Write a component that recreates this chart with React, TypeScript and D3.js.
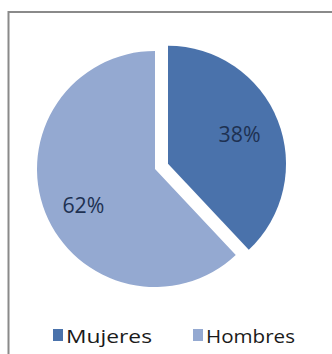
import React from "react";
import * as d3 from "d3";

const categories = ["Mujeres", "Hombres"];
const values = [38, 62];
const labels = ["38%", "62%"];
const colors = ["#4A72AB", "#94A9D1"];

export default function App() {
  const W = 332, H = 354;
  const cx = 155, cy = 169, r = 118, explode = 14;
  const pie = d3.pie<number>().sort(null).value((d) => d)(values);
  const arc = d3.arc<d3.PieArcDatum<number>>().innerRadius(0).outerRadius(r);
  const labelArc = d3.arc<d3.PieArcDatum<number>>().innerRadius(r * 0.68).outerRadius(r * 0.68);
  return (
    <svg width={W} height={H} style={{ position: "absolute", left: 0, top: 0, background: "#fff" }}
      fontFamily="'Open Sans', 'Liberation Sans', sans-serif">
      <rect x={0} y={0} width={W} height={H} fill="#fff" />
      <path d={`M8.5,${H} V12 H${W}`} fill="none" stroke="#8a8a8a" strokeWidth={2} />
      {pie.map((p, i) => {
        const mid = (p.startAngle + p.endAngle) / 2;
        const off = i === 0 ? explode : 0;
        const dx = Math.sin(mid) * off, dy = -Math.cos(mid) * off;
        const [lx, ly] = labelArc.centroid(p);
        return (
          <g key={categories[i]} transform={`translate(${cx + dx},${cy + dy})`}>
            <path d={arc(p) || ""} fill={colors[i]} />
            <text x={lx + (i === 0 ? -3 : 3)} y={ly + (i === 0 ? 0 : 6)} textAnchor="middle" dominantBaseline="central"
              fontSize={21} fill="#1E3152" textLength={42} lengthAdjust="spacingAndGlyphs">{labels[i]}</text>
          </g>
        );
      })}
      {categories.map((c, i) => {
        const x0 = i === 0 ? 53 : 193;
        return (
          <g key={"lg" + c}>
            <rect x={x0} y={329} width={10} height={12} fill={colors[i]} />
            <text x={x0 + 13} y={342.5} fontSize={19} fill="#1a1a1a"
              textLength={i === 0 ? 86 : 89} lengthAdjust="spacingAndGlyphs">{c}</text>
          </g>
        );
      })}
    </svg>
  );
}
